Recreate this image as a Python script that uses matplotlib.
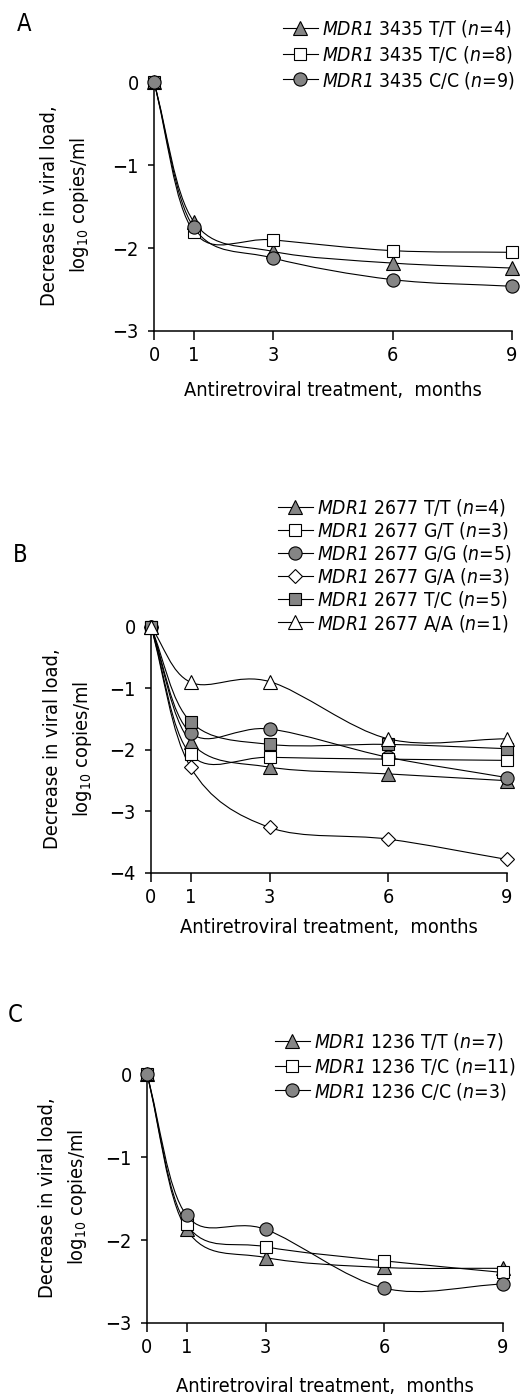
#!/usr/bin/env python3
import numpy as np
import matplotlib
matplotlib.use("Agg")
import matplotlib.pyplot as plt
from matplotlib.path import Path
from matplotlib.patches import PathPatch
from matplotlib.lines import Line2D

plt.rcParams['font.family'] = ['DejaVu Sans']
plt.rcParams['font.stretch'] = 'condensed'
plt.rcParams['mathtext.fontset'] = 'custom'
plt.rcParams['mathtext.rm'] = 'DejaVu Sans:style=italic:stretch=condensed'
plt.rcParams['mathtext.it'] = 'DejaVu Sans:style=italic:stretch=condensed'
plt.rcParams['mathtext.sf'] = 'DejaVu Sans:stretch=condensed'

FS = 14.3
LEG_FS = 13.9
months = [0, 1, 3, 6, 9]

# panel A, MDR1 3435
a_labels = ['3435 T/T', '3435 T/C', '3435 C/C']
a_n = [4, 8, 9]
a_tt = [0, -1.68, -2.04, -2.18, -2.24]
a_tc = [0, -1.80, -1.90, -2.03, -2.05]
a_cc = [0, -1.75, -2.12, -2.38, -2.46]

# panel B, MDR1 2677
b_labels = ['2677 T/T', '2677 G/T', '2677 G/G', '2677 G/A', '2677 T/C', '2677 A/A']
b_n = [4, 3, 5, 3, 5, 1]
b_tt = [0, -1.87, -2.28, -2.39, -2.50]
b_gt = [0, -2.07, -2.12, -2.15, -2.17]
b_gg = [0, -1.72, -1.66, -2.12, -2.45]
b_ga = [0, -2.28, -3.26, -3.45, -3.78]
b_tc = [0, -1.54, -1.91, -1.91, -1.98]
b_aa = [0, -0.90, -0.89, -1.82, -1.82]

# panel C, MDR1 1236
c_labels = ['1236 T/T', '1236 T/C', '1236 C/C']
c_n = [7, 11, 3]
c_tt = [0, -1.87, -2.21, -2.33, -2.34]
c_tc = [0, -1.81, -2.08, -2.25, -2.39]
c_cc = [0, -1.70, -1.87, -2.58, -2.53]

GREY = '#858585'
STYLES = {
    'tri_f': dict(marker='^', mfc=GREY, ms=10),
    'sq_o': dict(marker='s', mfc='white', ms=8.5),
    'circ_f': dict(marker='o', mfc=GREY, ms=9.5),
    'dia_o': dict(marker='D', mfc='white', ms=7.5),
    'sq_f': dict(marker='s', mfc=GREY, ms=8.5),
    'tri_o': dict(marker='^', mfc='white', ms=10),
}

fig = plt.figure(figsize=(5.31, 13.95), dpi=100)
W, H = 531.0, 1395.0


def smooth_path(x, y):
    # catmull-rom style curve through the points, like the original plotting program
    pts = np.column_stack([x, y]).astype(float)
    tang = np.zeros_like(pts)
    tang[0] = pts[1] - pts[0]
    tang[-1] = pts[-1] - pts[-2]
    tang[1:-1] = (pts[2:] - pts[:-2]) / 2
    verts = [pts[0]]
    codes = [Path.MOVETO]
    for i in range(len(pts) - 1):
        verts += [pts[i] + tang[i] / 3, pts[i + 1] - tang[i + 1] / 3, pts[i + 1]]
        codes += [Path.CURVE4] * 3
    return Path(verts, codes)


def axes_px(left, top, right, bottom):
    return fig.add_axes([left / W, 1 - bottom / H, (right - left) / W, (bottom - top) / H])


def draw_panel(box, series, labels, ns, ymin, ylab_x, xlab_y, leg_xy, leg_sp, z=None):
    left, top, right, bottom = box
    ax = axes_px(*box)
    handles = []
    for k, (vals, sty) in enumerate(series):
        zo = 3 + k if z is None else z[k]
        ax.add_patch(PathPatch(smooth_path(months, vals), fill=False, lw=0.8,
                               ec='black', clip_on=False, zorder=zo))
        ax.plot(months, vals, ls='none', mec='black', mew=0.8, clip_on=False,
                zorder=zo + 0.5, **sty)
        handles.append(Line2D([], [], color='black', lw=0.8, mec='black', mew=0.8, **sty))
    ax.set_xlim(0, 9)
    ax.set_ylim(ymin, 0.03)
    ax.set_xticks(months)
    ax.set_yticks(range(ymin, 1))
    for s in ('top', 'right'):
        ax.spines[s].set_visible(False)
    for s in ('left', 'bottom'):
        ax.spines[s].set_linewidth(1.1)
    ax.tick_params(axis='y', length=4, width=1.1, labelsize=FS, pad=7)
    ax.tick_params(axis='x', length=6.5, width=1.1, labelsize=FS, pad=4)
    ax.set_ylabel('Decrease in viral load,\nlog$_{\\mathsf{10}}$ copies/ml', fontsize=FS,
                  linespacing=1.5)
    ax.yaxis.set_label_coords((ylab_x - left) / (right - left), 0.5)
    ax.set_xlabel('Antiretroviral treatment,  months', fontsize=FS)
    ax.xaxis.set_label_coords(0.5, (bottom - xlab_y) / (bottom - top))
    labs = [r'$MDR1$ %s ($n$=%d)' % (l, n) for l, n in zip(labels, ns)]
    fig.legend(handles, labs, loc='upper left', bbox_to_anchor=(leg_xy[0] / W, 1 - leg_xy[1] / H),
               frameon=False, fontsize=LEG_FS, handlelength=1.8, handletextpad=0.2,
               labelspacing=leg_sp, borderpad=0, borderaxespad=0, numpoints=1)
    return ax


axA = draw_panel((154, 80, 512, 331),
                 [(a_tt, STYLES['tri_f']), (a_tc, STYLES['sq_o']), (a_cc, STYLES['circ_f'])],
                 a_labels, a_n, -3, 91, 381, (283, 18), 0.25)

axB = draw_panel((151, 625, 507, 873),
                 [(b_tt, STYLES['tri_f']), (b_gt, STYLES['sq_o']), (b_gg, STYLES['circ_f']),
                  (b_ga, STYLES['dia_o']), (b_tc, STYLES['sq_f']), (b_aa, STYLES['tri_o'])],
                 b_labels, b_n, -4, 94, 918, (278, 497), 0.11, z=[3, 6, 4, 5, 7, 8])

axC = draw_panel((147, 1072, 503, 1323),
                 [(c_tt, STYLES['tri_f']), (c_tc, STYLES['sq_o']), (c_cc, STYLES['circ_f'])],
                 c_labels, c_n, -3, 89, 1377, (275, 1031), 0.2)

fig.text(17 / W, 1 - 24 / H, 'A', fontsize=17, va='center', ha='left')
fig.text(13 / W, 1 - 555 / H, 'B', fontsize=17, va='center', ha='left')
fig.text(8 / W, 1 - 1015 / H, 'C', fontsize=17, va='center', ha='left')

fig.savefig('out.png', dpi=100)
